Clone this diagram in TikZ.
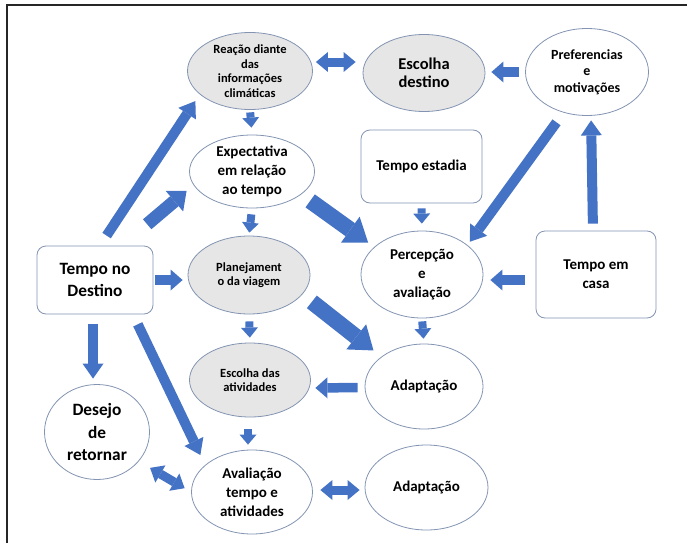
\documentclass[tikz,border=0pt]{standalone}
\usepackage{fontspec}
\setmainfont{Carlito}
\usepackage{xcolor}
\usepackage{tikz}
\usetikzlibrary{shapes.geometric, arrows.meta, positioning}

\definecolor{arrowblue}{RGB}{68,114,196}
\definecolor{rimblue}{RGB}{130,148,178}
\definecolor{ovalgray}{RGB}{231,230,230}

\begin{document}
\begin{tikzpicture}[x=1pt,y=-1pt]
			\tikzstyle{oval}=[draw=rimblue,line width=0.8pt,ellipse,inner sep=0pt,align=center]
			\tikzstyle{grayoval}=[oval,fill=ovalgray]
			\tikzstyle{box}=[draw=rimblue,line width=0.8pt,rounded corners=9pt,inner sep=0pt,align=center]
			\tikzstyle{fsmall}=[font=\bfseries\fontsize{12.5}{14.5}\selectfont]
			\tikzstyle{fmid}=[font=\bfseries\fontsize{14}{16.5}\selectfont]
			\tikzstyle{fnorm}=[font=\bfseries\fontsize{15}{19}\selectfont]
			\tikzstyle{fbig}=[font=\bfseries\fontsize{16.5}{17.5}\selectfont]
			\tikzstyle{fhuge}=[font=\bfseries\fontsize{17.3}{22.5}\selectfont]
			\tikzstyle{thinarrow}=[draw=arrowblue,line width=8pt,-{Triangle[length=10pt,width=17pt,line width=0pt]}]
			\tikzstyle{shortarrow}=[draw=arrowblue,line width=9.5pt,-{Triangle[length=12pt,width=21pt,line width=0pt]}]
			\tikzstyle{longarrow}=[draw=arrowblue,line width=10pt,-{Triangle[length=15pt,width=21pt,line width=0pt]}]
			\tikzstyle{midarrow}=[draw=arrowblue,line width=13pt,-{Triangle[length=16pt,width=27pt,line width=0pt]}]
			\tikzstyle{fatarrow}=[draw=arrowblue,line width=16pt,-{Triangle[length=22pt,width=32pt,line width=0pt]}]
			\tikzstyle{bothways}=[draw=arrowblue,line width=9pt,{Triangle[length=12pt,width=20pt,line width=0pt]}-{Triangle[length=12pt,width=20pt,line width=0pt]}]
			
			\useasboundingbox (0,0) rectangle (687,543);
			\draw[line width=1.8pt,black!85] (7,543) -- (7,5) -- (687,5);
			
			\node[grayoval,fsmall,minimum width=125pt,minimum height=77pt] (reacao) at (250,71) {Reação diante\\das\\informações\\climáticas};
			\node[grayoval,fbig,minimum width=122pt,minimum height=77pt] (escdest) [node distance=174pt,right of=reacao,yshift=-2pt] {Escolha\\destino};
			\node[oval,fmid,minimum width=123pt,minimum height=87pt] (pref) [node distance=163pt,right of=escdest,yshift=1pt] {Preferencias\\e\\motivações};
			\node[oval,fnorm,minimum width=125pt,minimum height=73pt] (expect) [node distance=100.5pt,below of=reacao,xshift=2pt] {Expectativa\\em relação\\ao tempo};
			\node[grayoval,fsmall,minimum width=122pt,minimum height=78pt] (planej) [node distance=103.5pt,below of=expect,xshift=-3pt] {Planejament\\o da viagem};
			\node[grayoval,fsmall,minimum width=121pt,minimum height=74pt] (escativ) [node distance=105pt,below of=planej,xshift=1pt] {Escolha das\\atividades};
			\node[oval,fnorm,minimum width=121pt,minimum height=84pt] (avalia) [node distance=112pt,below of=escativ,xshift=2pt] {Avaliação\\tempo e\\atividades};
			\node[box,fnorm,minimum width=121pt,minimum height=73pt] (testad) [node distance=93.5pt,below of=escdest,xshift=-2.5pt] {Tempo estadia};
			\node[oval,fnorm,minimum width=122pt,minimum height=87pt] (percep) [node distance=108pt,below of=testad,xshift=0.5pt] {Percepção\\e\\avaliação};
			\node[oval,fnorm,minimum width=118pt,minimum height=85pt] (adapt1) [node distance=112pt,below of=percep,xshift=2pt] {Adaptação};
			\node[oval,fnorm,minimum width=123pt,minimum height=85pt] (adapt2) [node distance=101pt,below of=adapt1,xshift=2.5pt] {Adaptação};
			\node[box,fnorm,minimum width=120pt,minimum height=87pt] (tcasa) [node distance=174pt,right of=percep] {Tempo em\\casa};
			\node[box,fhuge,minimum width=116pt,minimum height=68pt] (tdest) [node distance=154pt,left of=planej,yshift=-5pt] {Tempo no\\Destino};
			\node[oval,fhuge,minimum width=105pt,minimum height=95pt] (desejo) [node distance=152pt,below of=tdest,xshift=2pt] {Desejo\\de\\retornar};
			
			\path ([xshift=5pt]tdest.north) edge[longarrow,shorten <=12pt,shorten >=8pt] (reacao.205)
			([xshift=27pt]tdest.north) edge[midarrow,shorten <=33pt,shorten >=9pt] (expect.193)
			(tdest.east) edge[shortarrow,shorten <=2pt,shorten >=5pt] (tdest.east -| planej.west)
			([xshift=-2pt]tdest.south) edge[longarrow,shorten <=10pt,shorten >=5.5pt] ([xshift=-4pt]desejo.north)
			([xshift=38pt]tdest.south) edge[longarrow,shorten <=11pt,shorten >=11pt] (avalia.150)
			(reacao.south) edge[thinarrow,shorten <=2.5pt,shorten >=7pt] (expect.north)
			(expect.south) edge[thinarrow,shorten <=6pt,shorten >=3pt] (planej.north)
			(planej.south) edge[thinarrow,shorten <=7pt,shorten >=5pt] (escativ.north)
			([xshift=-2pt]escativ.south) edge[thinarrow,shorten <=12pt,shorten >=5pt] ([xshift=-4pt]avalia.north)
			(testad.south) edge[thinarrow,shorten <=5pt,shorten >=7pt] (percep.north)
			(percep.south) edge[thinarrow,shorten <=3pt,shorten >=5pt] (adapt1.north)
			(expect.335) edge[fatarrow,shorten <=11pt,shorten >=7.5pt] (percep.150)
			(planej.340) edge[fatarrow,shorten <=12pt,shorten >=10pt] (adapt1.145)
			(pref.240) edge[longarrow,shorten <=12pt,shorten >=4pt] (percep.33)
			([xshift=-3pt]tcasa.north) edge[longarrow,shorten <=7pt,shorten >=4.5pt] ([xshift=4pt]pref.south)
			([yshift=-5.5pt]tcasa.west) edge[shortarrow,shorten <=11pt,shorten >=7pt] ([yshift=-5.5pt]percep.east)
			(pref.west) edge[shortarrow,shorten <=6pt,shorten >=6pt] ([yshift=1pt]escdest.east)
			([yshift=-1pt]adapt1.west) edge[shortarrow,shorten <=7pt,shorten >=4.5pt] ([yshift=-8pt]escativ.east)
			([yshift=9pt]reacao.east) edge[bothways,shorten <=3pt,shorten >=7pt] ([yshift=11pt]escdest.west)
			(desejo.325) edge[bothways,shorten <=13pt,shorten >=7.5pt] (avalia.west)
			([yshift=2pt]avalia.east) edge[bothways,shorten <=7.5pt,shorten >=5pt] ([yshift=-2.5pt]adapt2.west);
		\end{tikzpicture}
\end{document}
